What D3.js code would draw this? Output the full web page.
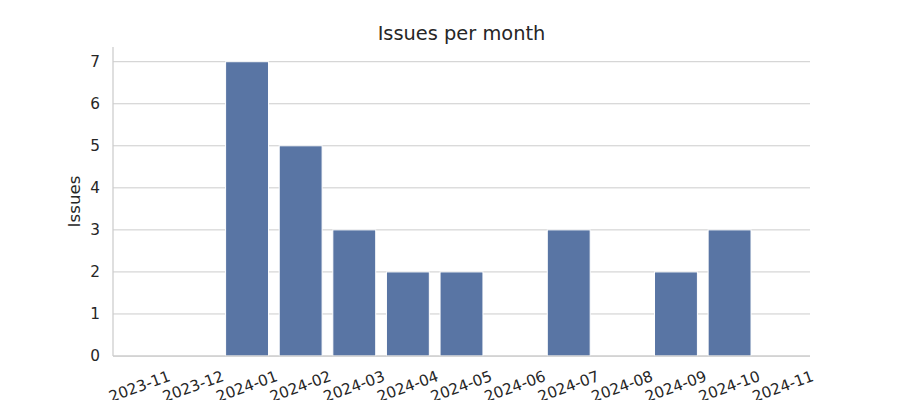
<!DOCTYPE html>
<html><head><meta charset="utf-8">
<script src="https://cdn.jsdelivr.net/npm/d3@7"></script>
<style>body{margin:0;background:#fff;} text{font-family:"DejaVu Sans",sans-serif;fill:#262626;}</style>
</head><body>
<svg id="c" width="900" height="400"></svg>
<script>
const months = ["2023-11","2023-12","2024-01","2024-02","2024-03","2024-04","2024-05","2024-06","2024-07","2024-08","2024-09","2024-10","2024-11"];
const issues = [0,0,7,5,3,2,2,0,3,0,2,3,0];
const yTicks = [0,1,2,3,4,5,6,7];
const title = "Issues per month";
const yLabel = "Issues";

const svg = d3.select("#c");
const m = {l:113, r:90, t:47, b:44};
const W = 900, H = 400;
const x = d3.scaleBand().domain(months).range([m.l, W-m.r]).paddingInner(0.2).paddingOuter(0.1);
const y = d3.scaleLinear().domain([0,7.35]).range([H-m.b, m.t]);

// grid
svg.append("g").selectAll("line").data(yTicks).join("line")
  .attr("x1", m.l).attr("x2", W-m.r).attr("y1", d=>y(d)).attr("y2", d=>y(d))
  .attr("stroke","#cccccc").attr("stroke-width",1);

// bars
svg.append("g").selectAll("rect").data(months.map((mo,i)=>({mo, v:issues[i]})).filter(d=>d.v>0)).join("rect")
  .attr("x", d=>x(d.mo)).attr("width", x.bandwidth())
  .attr("y", d=>y(d.v)).attr("height", d=>y(0)-y(d.v))
  .attr("fill","#5975a4").attr("stroke","#ffffff").attr("stroke-width",1);

// spines
svg.append("line").attr("x1",m.l).attr("x2",m.l).attr("y1",m.t).attr("y2",H-m.b).attr("stroke","#cccccc").attr("stroke-width",1.25);
svg.append("line").attr("x1",m.l).attr("x2",W-m.r).attr("y1",H-m.b).attr("y2",H-m.b).attr("stroke","#cccccc").attr("stroke-width",1.25);

// y axis labels
const ya = svg.append("g").attr("transform",`translate(${m.l},0)`)
  .call(d3.axisLeft(y).tickValues(yTicks).tickSize(0).tickPadding(13).tickFormat(d3.format("d")));
ya.select(".domain").remove();
ya.selectAll("text").style("font-size","15.3px").style("font-family","DejaVu Sans").attr("fill","#262626");

// x axis labels
const xa = svg.append("g").attr("transform",`translate(0,${H-m.b})`)
  .call(d3.axisBottom(x).tickSize(0).tickPadding(0));
xa.select(".domain").remove();
xa.selectAll("text").style("font-size","15.3px").style("font-family","DejaVu Sans").attr("fill","#262626")
  .attr("text-anchor","middle").attr("dy",null).attr("y",null)
  .attr("transform","translate(0,31) rotate(-20)").attr("dominant-baseline","middle");

svg.append("text").attr("x",(m.l+W-m.r)/2).attr("y",40).attr("text-anchor","middle")
  .style("font-size","19.4px").text(title);
svg.append("text").attr("transform",`translate(80,${(m.t+H-m.b)/2}) rotate(-90)`).attr("text-anchor","middle")
  .style("font-size","16.7px").text(yLabel);
</script>
</body></html>
